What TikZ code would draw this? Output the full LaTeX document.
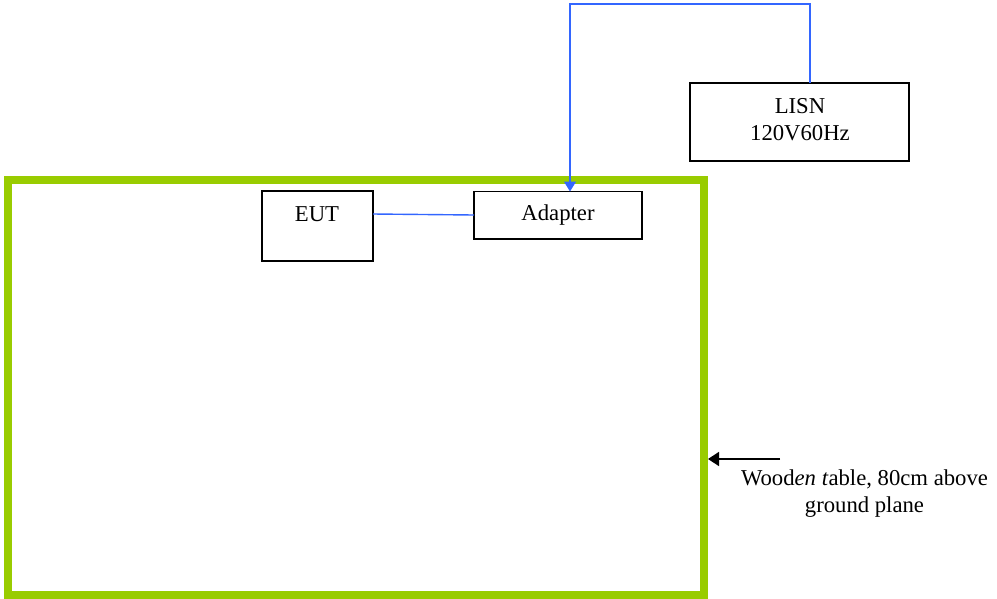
\documentclass[tikz,border=0pt]{standalone}
\usepackage{fontspec}
\setmainfont{Liberation Serif}
\usetikzlibrary{arrows.meta}
\definecolor{framegreen}{RGB}{153,204,0}
\definecolor{wireblue}{RGB}{51,102,255}
\tikzset{
  px/.style={x=1pt,y=-1pt},
  box/.style={draw=black,line width=1.6pt,fill=none},
  lbl/.style={font=\fontsize{22.7}{27}\selectfont,align=center,inner sep=0pt},
  wire/.style={draw=wireblue,line width=1.4pt}
}
\begin{document}
\begin{tikzpicture}[px]
\useasboundingbox (0,0) rectangle (997,598);
% table frame
\draw[framegreen,line width=8pt] (7.5,179.5) rectangle (703.5,594.5);
% boxes
\draw[box] (262,191) rectangle (373,261);
\node[lbl] (eut) at (317,214) {EUT};
\coordinate (eutR) at (373,214);
\draw[box] (474,191.5) rectangle (642,239);
\node[lbl] (adapter) at (558,215.5) {Adapter};
\coordinate (adL) at (474,215);
\coordinate (adT) at (570,191.5);
\draw[box] (690,83) rectangle (909,161);
\node[lbl] (lisn) at (800,119.5) {LISN\\120V60Hz};
\coordinate (lisnT) at (810,83);
% wires
\draw[wire] (eutR) -- (adL);
\draw[wire,-{Triangle[length=10pt,width=12pt]}] (lisnT) -- (810,4) -- (570,4) -- (adT);
% label arrow
\node[lbl] (table) at (864.5,494) {Wood\textit{en t}able, 80cm above\\ground plane};
\coordinate (arS) at (780,459);
\coordinate (arE) at (708,459);
\draw[line width=1.5pt,-{Triangle[length=11pt,width=14pt]}] (arS) -- (arE);
\end{tikzpicture}
\end{document}
